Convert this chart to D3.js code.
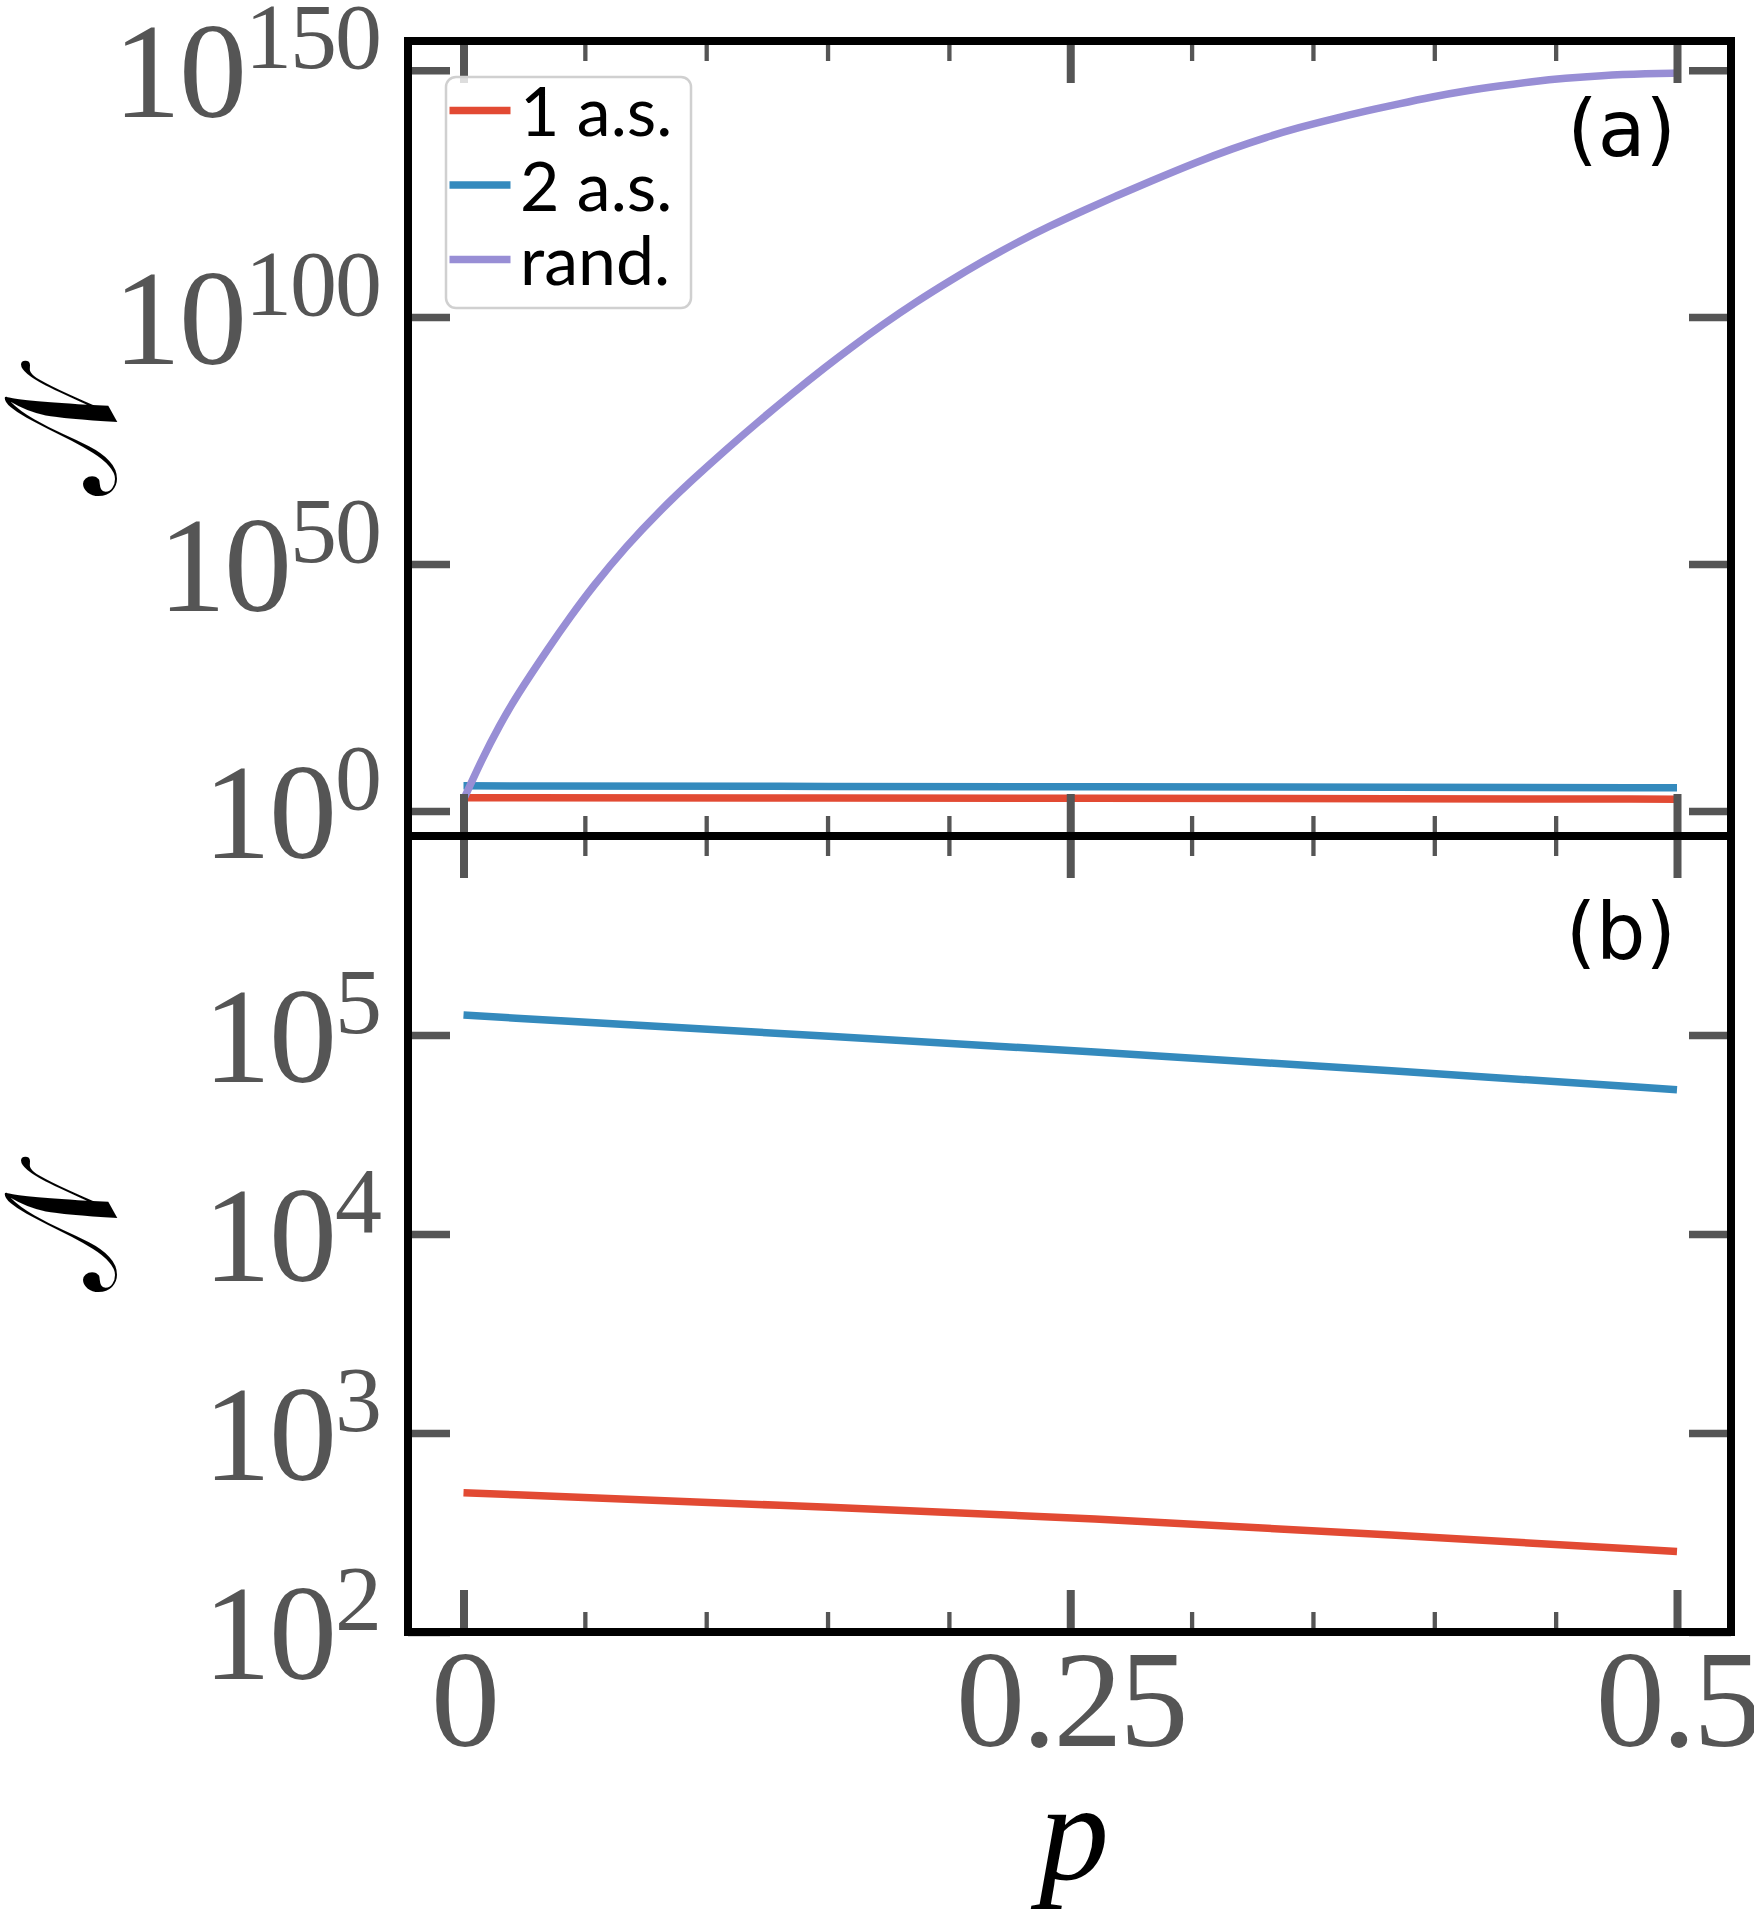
<!DOCTYPE html>
<html lang="en">
<head>
<meta charset="utf-8">
<title>N vs p</title>
<script src="https://cdn.jsdelivr.net/npm/d3@7"></script>
<style>
  html, body { margin: 0; padding: 0; background: #fff; }
  svg { display: block; }
</style>
</head>
<body>
<script>
// ---- data (values are log10 of N) ----
let p_as = [0, 0.13, 0.262, 0.383, 0.5];
let as1_log = [2.70, 2.637, 2.571, 2.487, 2.404];
let as2_log = [5.10, 5.008, 4.915, 4.821, 4.725];

let p_rand = [0, 0.0079, 0.0148, 0.0217, 0.0354, 0.0437, 0.0533, 0.067, 0.0807, 0.0944,
              0.1082, 0.1219, 0.1356, 0.1494, 0.159, 0.1727, 0.1865, 0.2002, 0.2139, 0.2276,
              0.2414, 0.2551, 0.2688, 0.2825, 0.3031, 0.3168, 0.3306, 0.3443, 0.358, 0.3717,
              0.3855, 0.3992, 0.4129, 0.4267, 0.4404, 0.4541, 0.4679, 0.4885, 0.5];
let rand_log = [2.3, 10.8, 17.3, 23.2, 33.3, 39.1, 45.5, 53.6, 60.7, 67.1,
                73.2, 79.0, 84.6, 90.0, 93.6, 98.5, 103.1, 107.3, 111.3, 115.0,
                118.4, 121.5, 124.5, 127.4, 131.6, 134.1, 136.4, 138.4, 140.1, 141.7,
                143.2, 144.6, 145.8, 146.8, 147.7, 148.4, 148.9, 149.3, 149.4];

let xMajor = [0, 0.25, 0.5];
let xMinor = [0.05, 0.1, 0.15, 0.2, 0.3, 0.35, 0.4, 0.45];
let yTicksA = [0, 50, 100, 150];   // exponents
let yTicksB = [2, 3, 4, 5];

let seriesNames = ["1 a.s.", "2 a.s.", "rand."];
let colors = ["#E24A33", "#348ABD", "#988ED5"];

// ---- layout ----
let w = 1754, h = 1921;
let left = 408, right = 1731;
let topA = 41, mid = 836, botB = 1632;
let grey = "#555555";
let serif = "'Liberation Serif', 'DejaVu Serif', serif";

let svg = d3.select("body").append("svg")
    .attr("width", w).attr("height", h);

let x = d3.scaleLinear().domain([0, 0.5]).range([463.5, 1677]);
let yA = d3.scaleLog().domain([Math.pow(10, -5.05), Math.pow(10, 155.9)]).range([mid, topA]);
let yB = d3.scaleLog().domain([1e2, 1e6]).range([botB, mid]);

function mk(ps, logs) {
    return ps.map((p, i) => ({p: p, v: Math.pow(10, logs[i])}));
}
let d1 = mk(p_as, as1_log), d2 = mk(p_as, as2_log), dr = mk(p_rand, rand_log);

// ---- lines ----
function drawLines(y, sets) {
    let line = d3.line().x(d => x(d.p)).y(d => y(d.v)).curve(d3.curveBasis);
    sets.forEach(s => {
        svg.append("path")
            .datum(s.data)
            .attr("d", line)
            .attr("fill", "none")
            .attr("stroke", s.color)
            .attr("stroke-width", 7.5);
    });
}
drawLines(yA, [{data: d1, color: colors[0]}, {data: d2, color: colors[1]}, {data: dr, color: colors[2]}]);
drawLines(yB, [{data: d1, color: colors[0]}, {data: d2, color: colors[1]}]);

// ---- ticks ----
function styleTicks(g, width) {
    g.select(".domain").remove();
    g.selectAll(".tick line").attr("stroke", grey).attr("stroke-width", width);
}

function supLabels(g, exps) {
    g.selectAll(".tick text").each(function(d, i) {
        let t = d3.select(this);
        t.text(null).attr("dy", null)
            .attr("fill", grey)
            .attr("font-family", serif)
            .attr("font-size", 136)
            .attr("letter-spacing", -2)
            .attr("text-anchor", "end");
        t.append("tspan").attr("dy", 46).text("10");
        t.append("tspan").attr("dy", -49).attr("font-size", 94).text(exps[i]);
    });
}

function panelTicks(y, yt, yTop, yBot, withXLabels) {
    let vals = yt.map(e => Math.pow(10, e));
    let gl = svg.append("g").attr("transform", "translate(" + left + ",0)")
        .call(d3.axisLeft(y).tickValues(vals).tickSize(-42).tickPadding(28));
    styleTicks(gl, 7.5);
    supLabels(gl, yt);

    let gr = svg.append("g").attr("transform", "translate(" + right + ",0)")
        .call(d3.axisRight(y).tickValues(vals).tickSize(-42).tickFormat(""));
    styleTicks(gr, 7.5);

    let gt = svg.append("g").attr("transform", "translate(0," + yTop + ")")
        .call(d3.axisTop(x).tickValues(xMajor).tickSize(-42).tickFormat(""));
    styleTicks(gt, 8);
    let gtm = svg.append("g").attr("transform", "translate(0," + yTop + ")")
        .call(d3.axisTop(x).tickValues(xMinor).tickSize(-20).tickFormat(""));
    styleTicks(gtm, 4.3);

    let gb = svg.append("g").attr("transform", "translate(0," + yBot + ")")
        .call(d3.axisBottom(x).tickValues(xMajor).tickSize(-42).tickPadding(0)
            .tickFormat(withXLabels ? (d => d3.format("")(d)) : ""));
    styleTicks(gb, 8);
    let gbm = svg.append("g").attr("transform", "translate(0," + yBot + ")")
        .call(d3.axisBottom(x).tickValues(xMinor).tickSize(-20).tickFormat(""));
    styleTicks(gbm, 4.3);

    if (withXLabels) {
        gb.selectAll(".tick text")
            .attr("dy", null)
            .attr("y", 114)
            .attr("fill", grey)
            .attr("font-family", serif)
            .attr("font-size", 138)
            .attr("letter-spacing", -3);
    }
}
panelTicks(yA, yTicksA, topA, mid, false);
panelTicks(yB, yTicksB, mid, botB, true);

// ---- spines ----
[[topA, mid], [mid, botB]].forEach(r => {
    svg.append("rect")
        .attr("x", left).attr("y", r[0])
        .attr("width", right - left).attr("height", r[1] - r[0])
        .attr("fill", "none").attr("stroke", "#000").attr("stroke-width", 8);
});

// ---- y labels: rotated script N, fitted to the box it takes in the figure ----
let nFont = "'DejaVu Serif', 'DejaVu Sans', serif";
let nSize = 140;
let ctx = document.createElement("canvas").getContext("2d");
ctx.font = nSize + "px " + nFont;
let m = ctx.measureText("\u{1D4A9}");
let inkA = m.actualBoundingBoxAscent, inkD = m.actualBoundingBoxDescent;
let inkL = m.actualBoundingBoxLeft, inkR = m.actualBoundingBoxRight;
[[4, 118, 360, 496], [4, 118, 1156, 1292]].forEach(b => {
    let sy = (b[1] - b[0]) / Math.max(inkA + inkD, 1);
    let sx = (b[3] - b[2]) / Math.max(inkR + inkL, 1);
    let tx = b[0] + sy * inkA;
    let ty = b[2] + sx * inkR;
    svg.append("text")
        .attr("transform", "translate(" + tx + "," + ty + ") rotate(-90) scale(" + sx + "," + sy + ")")
        .attr("font-family", nFont)
        .attr("font-size", nSize)
        .attr("fill", "#000")
        .text("\u{1D4A9}");
});

svg.append("text")
    .attr("x", 1074).attr("y", 1879)
    .attr("text-anchor", "middle")
    .attr("font-family", serif)
    .attr("font-style", "italic")
    .attr("font-size", 140)
    .attr("fill", "#000")
    .text("p");

// ---- panel tags ----
svg.append("text").attr("x", 1676).attr("y", 156)
    .attr("text-anchor", "end").attr("font-family", "'DejaVu Sans', sans-serif")
    .attr("font-size", 78).text("(a)");
svg.append("text").attr("x", 1676).attr("y", 959)
    .attr("text-anchor", "end").attr("font-family", "'DejaVu Sans', sans-serif")
    .attr("font-size", 78).text("(b)");

// ---- legend ----
let lg = svg.append("g");
lg.append("rect")
    .attr("x", 446).attr("y", 77).attr("width", 245).attr("height", 231)
    .attr("rx", 10).attr("ry", 10)
    .attr("fill", "white").attr("fill-opacity", 0.8)
    .attr("stroke", "#d0d0d0").attr("stroke-width", 2.5);
seriesNames.forEach((name, i) => {
    let cy = 110.5 + i * 74.5;
    lg.append("line")
        .attr("x1", 449.5).attr("x2", 510.5)
        .attr("y1", cy).attr("y2", cy)
        .attr("stroke", colors[i]).attr("stroke-width", 7.5);
    lg.append("text")
        .attr("x", 520).attr("y", cy + 25.5)
        .attr("font-family", "Lato, 'Open Sans', sans-serif")
        .attr("font-size", 68)
        .attr("fill", "#000")
        .text(name);
});
</script>
</body>
</html>
